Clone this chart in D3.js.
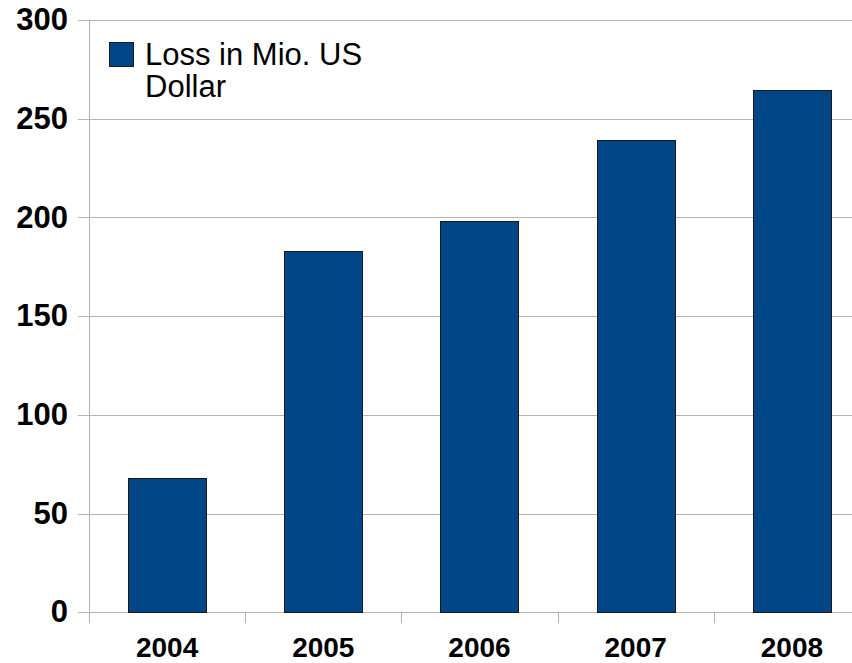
<!DOCTYPE html>
<html>
<head>
<meta charset="utf-8">
<script src="https://cdn.jsdelivr.net/npm/d3@7"></script>
<style>
  html, body { margin: 0; padding: 0; background: #fff; }
  svg { display: block; font-family: "Liberation Sans", Arial, sans-serif; }
</style>
</head>
<body>
<svg id="chart" width="852" height="663"></svg>
<script>
const categories = ["2004", "2005", "2006", "2007", "2008"];
const lossValues = [68.1, 183.1, 198.4, 239.1, 264.6];
const yTicks = [0, 50, 100, 150, 200, 250, 300];
const seriesName = ["Loss in Mio. US", "Dollar"];

const svg = d3.select("#chart");
const plotLeft = 89, plotRight = 870, plotTop = 20, plotBottom = 612.3;

const x = d3.scaleBand().domain(categories).range([plotLeft, plotRight]).paddingInner(0.5).paddingOuter(0.25);
const xb = d3.scaleBand().domain(categories).range([plotLeft, plotRight]);
const y = d3.scaleLinear().domain([0, 300]).range([plotBottom, plotTop]);

// gridlines
svg.append("g").selectAll("line").data(yTicks).join("line")
  .attr("x1", 78).attr("x2", plotRight)
  .attr("y1", d => Math.round(y(d)) + 0.5).attr("y2", d => Math.round(y(d)) + 0.5)
  .attr("stroke", "#b3b3b3").attr("stroke-width", 1);

// y axis line
svg.append("line").attr("x1", plotLeft + 0.5).attr("x2", plotLeft + 0.5)
  .attr("y1", plotTop).attr("y2", plotBottom + 11)
  .attr("stroke", "#b3b3b3");

// category ticks
svg.append("g").selectAll("line").data(categories.slice(1)).join("line")
  .attr("x1", d => Math.round(xb(d)) + 0.5).attr("x2", d => Math.round(xb(d)) + 0.5)
  .attr("y1", plotBottom).attr("y2", plotBottom + 11)
  .attr("stroke", "#b3b3b3");

// bars
svg.append("g").selectAll("rect").data(lossValues).join("rect")
  .attr("x", (d, i) => Math.round(x(categories[i])) + 0.5)
  .attr("width", Math.round(x.bandwidth()))
  .attr("y", d => Math.round(y(d)) + 0.5)
  .attr("height", d => Math.round(plotBottom) - Math.round(y(d)))
  .attr("fill", "#004586").attr("stroke", "#1a1a1a").attr("stroke-width", 1);

// y labels
svg.append("g").selectAll("text").data(yTicks).join("text")
  .attr("x", 68).attr("y", d => y(d) + 2)
  .attr("text-anchor", "end").attr("dominant-baseline", "middle")
  .attr("font-weight", "bold").attr("font-size", 31).attr("fill", "#000")
  .text(d => d);

// x labels
svg.append("g").selectAll("text").data(categories).join("text")
  .attr("x", d => xb(d) + xb.bandwidth() / 2).attr("y", 657)
  .attr("text-anchor", "middle")
  .attr("font-weight", "bold").attr("font-size", 28).attr("fill", "#000")
  .text(d => d);

// legend
svg.append("rect").attr("x", 109.5).attr("y", 42.5).attr("width", 24).attr("height", 24)
  .attr("fill", "#004586").attr("stroke", "#1a1a1a");
svg.append("g").selectAll("text").data(seriesName).join("text")
  .attr("x", 145).attr("y", (d, i) => 65 + i * 32)
  .attr("font-size", 31).attr("fill", "#000")
  .text(d => d);
</script>
</body>
</html>
